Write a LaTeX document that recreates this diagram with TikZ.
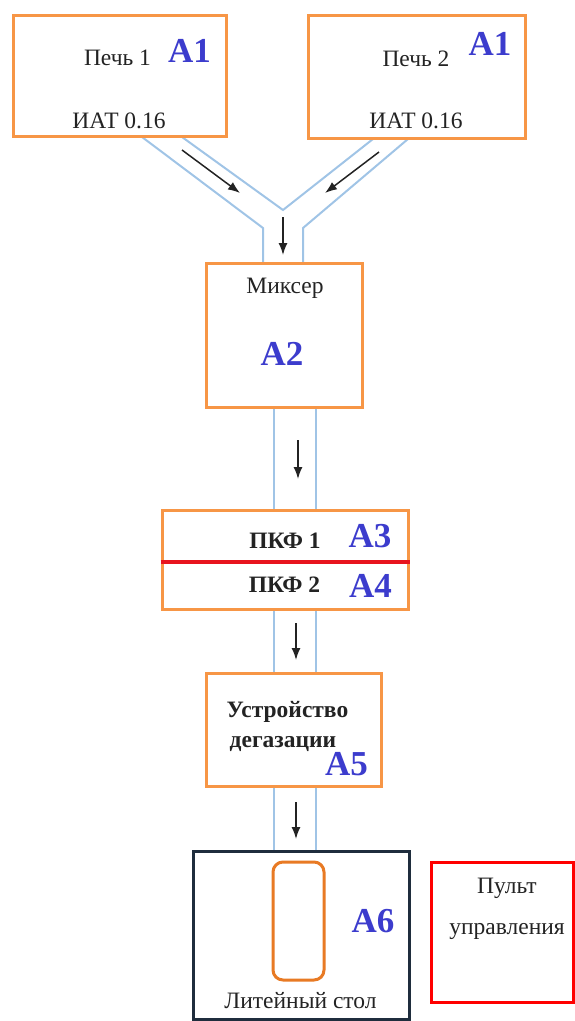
\documentclass[tikz,border=0pt]{standalone}
\usepackage{fontspec}
\setmainfont{Liberation Serif}
\usetikzlibrary{arrows.meta}

\definecolor{boxorange}{RGB}{247,150,70}
\definecolor{mouldorange}{RGB}{232,122,36}
\definecolor{pipeblue}{RGB}{160,196,230}
\definecolor{codeblue}{RGB}{60,60,205}
\definecolor{tablenavy}{RGB}{31,45,61}
\definecolor{sepred}{RGB}{232,20,30}
\definecolor{pultred}{RGB}{255,0,0}
\definecolor{inkgray}{RGB}{35,35,35}

\begin{document}
\begin{tikzpicture}[x=1pt, y=-1pt,
		unitbox/.style={draw=boxorange, fill=white, line width=3pt, inner sep=0pt},
		txt/.style={font=\fontsize{23.5}{26}\selectfont, text=inkgray, anchor=base, inner sep=0pt},
		code/.style={font=\fontsize{35}{38}\selectfont\bfseries, text=codeblue, anchor=base, inner sep=0pt},
		pipe/.style={draw=pipeblue, line width=2pt},
		flow/.style={draw=inkgray, line width=1.5pt, -{Latex[length=12pt,width=9pt]}}]
		\useasboundingbox (0,0) rectangle (575,1021);
		% the Y-shaped pipe from both furnaces into the mixer
		\draw [pipe] (142,137) -- (263,228) -- (263,263);
		\draw [pipe] (182,137) -- (283,210) -- (373,139);
		\draw [pipe] (408,139) -- (303,228) -- (303,263);
		% furnaces
		\node [unitbox, minimum width=213pt, minimum height=121pt] (pech1) at (119.5,75.5) {};
		\node [unitbox, minimum width=217pt, minimum height=123pt] (pech2) at (416.5,76.5) {};
		\node [txt] (pech1t) at (117.5,65.5) {Печь 1};
		\node [txt] (pech1s) at (119,128) {ИАТ 0.16};
		\node [code] (pech1c) at (189.5,62) {A1};
		\node [txt] (pech2t) at (416,66) {Печь 2};
		\node [txt] (pech2s) at (416,128) {ИАТ 0.16};
		\node [code] (pech2c) at (490,55) {A1};
		% mixer
		\node [unitbox, minimum width=156pt, minimum height=144pt] (mix) at (284,335) {};
		\node [txt] (mixt) at (285,293) {Миксер};
		\node [code] (mixc) at (282,365) {A2};
		% ceramic foam filters, split by the red line
		\node [unitbox, minimum width=246pt, minimum height=99pt] (pkf) at (285,559.5) {};
		\draw [sepred, line width=4pt] ([yshift=-2.5pt]pkf.west) -- ([yshift=-2.5pt]pkf.east);
		\node [txt, font=\fontsize{23.5}{26}\selectfont\bfseries] (pkf1t) at (285,548) {ПКФ 1};
		\node [code] (pkf1c) at (370,547) {A3};
		\node [txt, font=\fontsize{23.5}{26}\selectfont\bfseries] (pkf2t) at (284.5,592) {ПКФ 2};
		\node [code] (pkf2c) at (370.5,597) {A4};
		% degassing unit
		\node [unitbox, minimum width=175pt, minimum height=113pt] (deg) at (293.5,729.5) {};
		\node [txt, font=\fontsize{23.5}{26}\selectfont\bfseries] (degt1) at (287.5,717) {Устройство};
		\node [txt, font=\fontsize{23.5}{26}\selectfont\bfseries] (degt2) at (283,747) {дегазации};
		\node [code] (degc) at (346.5,775) {A5};
		% casting table with the mould
		\node [draw=tablenavy, fill=white, line width=3pt, inner sep=0pt, minimum width=216pt, minimum height=168pt] (cast) at (301,935) {};
		\node [draw=mouldorange, line width=3pt, rounded corners=10pt, inner sep=0pt, minimum width=51pt, minimum height=118pt] (mould) at (298.5,921) {};
		\node [code] (castc) at (373,932) {A6};
		\node [txt] (castt) at (300.5,1008) {Литейный стол};
		% control desk
		\node [draw=pultred, line width=3pt, inner sep=0pt, minimum width=142pt, minimum height=140pt] (pult) at (502,932) {};
		\node [txt] (pultt1) at (507,893) {Пульт};
		\node [txt] (pultt2) at (507,934) {управления};
		% straight pipes between the units
		\coordinate (axl) at (274,0);
		\coordinate (axr) at (316,0);
		\foreach \up/\dn in {mix/pkf, pkf/deg, deg/cast} {
			\draw [pipe] (axl |- \up.south) -- (axl |- \dn.north);
			\draw [pipe] (axr |- \up.south) -- (axr |- \dn.north);
		}
		% flow arrows
		\coordinate (f1a) at (182,150); \coordinate (f1b) at (240,193);
		\coordinate (f2a) at (379,152); \coordinate (f2b) at (325,193);
		\coordinate (f3a) at (283,217); \coordinate (f3b) at (283,255);
		\coordinate (f4a) at (298,440); \coordinate (f4b) at (298,479);
		\coordinate (f5a) at (296,623); \coordinate (f5b) at (296,660);
		\coordinate (f6a) at (296,802); \coordinate (f6b) at (296,839);
		\foreach \s/\e in {f1a/f1b, f2a/f2b, f3a/f3b, f4a/f4b, f5a/f5b, f6a/f6b}
			\draw [flow] (\s) -- (\e);
	\end{tikzpicture}
\end{document}
